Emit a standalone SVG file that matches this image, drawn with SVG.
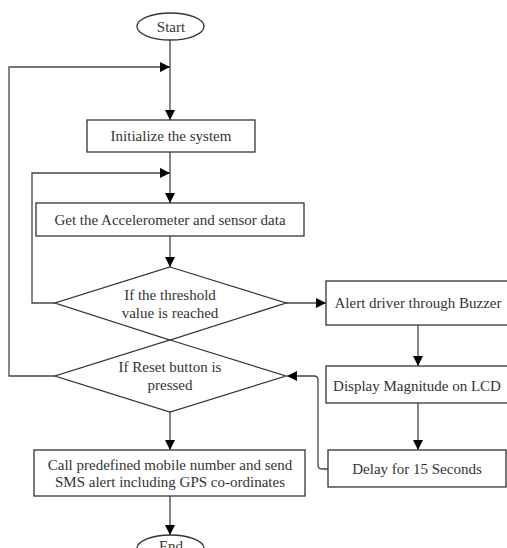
<svg xmlns="http://www.w3.org/2000/svg" width="507" height="548" viewBox="0 0 507 548">
<style>
.sh{fill:#fff;stroke:#333;stroke-width:1.3}
.t{font-family:'Liberation Serif','DejaVu Serif',serif;font-size:15px;fill:#333;text-anchor:middle}
.c{fill:none;stroke:#444;stroke-width:1.3;marker-end:url(#ah)}
</style>
<defs>
<marker id="ah" viewBox="0 0 10 10" refX="10" refY="5" markerWidth="10" markerHeight="10" markerUnits="userSpaceOnUse" orient="auto">
<path d="M0,0 L10,5 L0,10 Z" fill="#000"/>
</marker>
</defs>
<rect width="507" height="548" fill="#fff"/>
<g id="connectors">
<path class="c" d="M170,40 V120"/>
<path class="c" d="M55,376 H9 V67 H170"/>
<path class="c" d="M170,152 V203"/>
<path class="c" d="M55,303 H32 V173 H170"/>
<path class="c" d="M170,236 V267"/>
<path class="c" d="M170,412 V450"/>
<path class="c" d="M170,496 V535"/>
<path class="c" d="M286,303 H326"/>
<path class="c" d="M418,325 V366"/>
<path class="c" d="M418,403 V450"/>
<path class="c" d="M328,469 H322 Q318,469 318,465 V380 Q318,376 314,376 H287"/>
</g>
<g id="start">
<ellipse class="sh" cx="170.5" cy="26.5" rx="33.5" ry="13.5"/>
<text class="t" x="171" y="31.5">Start</text>
</g>
<g id="init">
<rect class="sh" x="87" y="120" width="168" height="32"/>
<text class="t" x="171" y="141">Initialize the system</text>
</g>
<g id="getdata">
<rect class="sh" x="36" y="203" width="268" height="33"/>
<text class="t" x="170" y="225">Get the Accelerometer and sensor data</text>
</g>
<g id="threshold">
<polygon class="sh" points="170,267 286,303 170,340 55,303"/>
<text class="t" x="170" y="300">If the threshold</text>
<text class="t" x="170" y="318">value is reached</text>
</g>
<g id="reset">
<polygon class="sh" points="170,340 286,376 170,412 55,376"/>
<text class="t" x="170" y="372">If Reset button is</text>
<text class="t" x="170" y="390">pressed</text>
</g>
<g id="call">
<rect class="sh" x="34" y="450" width="271" height="46"/>
<text class="t" x="170" y="470">Call predefined mobile number and send</text>
<text class="t" x="170" y="487">SMS alert including GPS co-ordinates</text>
</g>
<g id="end">
<ellipse class="sh" cx="170.5" cy="548.5" rx="33.5" ry="13.5"/>
<text class="t" x="171" y="551">End</text>
</g>
<g id="alert">
<rect class="sh" x="326" y="281" width="190" height="44"/>
<text class="t" x="418" y="308">Alert driver through Buzzer</text>
</g>
<g id="display">
<rect class="sh" x="326" y="366" width="190" height="37"/>
<text class="t" x="417" y="391">Display Magnitude on LCD</text>
</g>
<g id="delay">
<rect class="sh" x="328" y="450" width="178" height="37"/>
<text class="t" x="417" y="474">Delay for 15 Seconds</text>
</g>
</svg>
